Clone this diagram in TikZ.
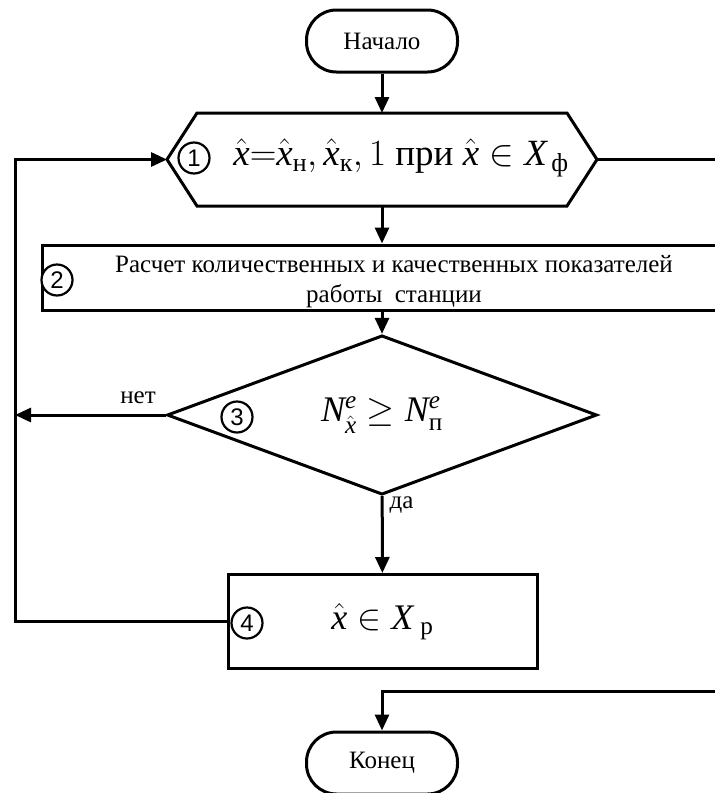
\RequirePackage{fix-cm}
\documentclass[tikz,border=0pt]{standalone}
\usepackage{amsmath}
\usepackage{fontspec}
\setmainfont{Liberation Serif}
\newfontfamily\digitfont{Liberation Sans}
\usetikzlibrary{arrows.meta,shapes.geometric}

\newcommand{\vi}[1]{\text{\itshape #1}}
\newcommand{\xh}{\hat{\vi{x}}}

\begin{document}
\begin{tikzpicture}[x=1pt,y=-1pt,
    every node/.style={font=\rmfamily\fontsize{25}{30}\selectfont},
    line/.style={line width=3pt},
    arrow/.style={line, -{Triangle[length=16pt,width=14pt]}},
    term/.style={draw, line width=3pt, rounded corners=30pt,
                 minimum width=151pt, minimum height=62pt},
    procbox/.style={draw, line width=3pt, inner sep=0pt},
    decision/.style={draw, line width=3pt, diamond, inner sep=0pt,
                     minimum width=430pt, minimum height=148pt},
    num/.style={draw, circle, fill=white, line width=2.2pt, inner sep=0pt,
                minimum size=31pt, font=\digitfont\fontsize{24}{24}\selectfont}]
    \useasboundingbox (0,0) rectangle (715,793);
    \clip (0,0) rectangle (715,793);

    \node[term] (start) at (382,41) {Начало};
    \node[term] (stop) at (382,763) {Конец};

    % cycle over x
    \node[minimum width=370pt, minimum height=93pt, inner sep=0pt, outer sep=0pt] (hex) at (382,159.5) {};
    \draw[line] (hex.north west) -- (hex.north east) -- ++(30,46.5) coordinate (hexR)
      -- (hex.south east) -- (hex.south west) -- ++(-30,-46.5) coordinate (hexL) -- cycle;
    \node[font=\rmfamily\fontsize{37}{40}\selectfont] (hexf) at (401,158)
      {$\xh{=}\xh_{\text{н}},\xh_{\text{к}},1\text{ при }\xh\in\vi{X}_{\,\text{ф}}$};
    \node[num] (n1) at (194,158) {1};

    \node[procbox, minimum width=703pt, minimum height=65pt] (metrics) at (393.5,277.5) {};
    \node[align=center] (metricsText) at (394,282)
      {Расчет количественных и качественных показателей\\работы\ \ станции};
    \node[num] (n2) at (57,280) {2};

    \node[decision, font=\rmfamily\fontsize{36}{40}\selectfont] (check) at (382,415)
      {$\vi{N}^{\vi{e}}_{\lower3pt\hbox{$\scriptstyle\xh$}}\geq\vi{N}^{\vi{e}}_{\text{п}}$};
    \node[num] (n3) at (237,417) {3};
    \node (no) at (138,398) {нет};
    \node[anchor=west] (yes) at (386,505) {да};

    \node[procbox, minimum width=309pt, minimum height=94pt, font=\rmfamily\fontsize{36}{40}\selectfont] (accept) at (382.5,621.5)
      {$\xh\in\vi{X}_{\;\text{р}}$};
    \node[num] (n4) at (247,623) {4};

    \coordinate (ltop) at (15,159.5);
    \coordinate (rtop) at (715,159.5);
    \coordinate (rbot) at (715,691);

    \draw[arrow] (start) -- (hex);
    \draw[arrow] (hex.south) -- (metrics.north -| hex.south);
    \draw[arrow] (metrics.south -| check.north) -- (check.north);
    \draw[arrow] (check) -- (accept);
    \draw[arrow] (check.west) -- (check.west -| ltop);
    \draw[arrow] (accept.west) -| (ltop) -- (hexL);
    \draw[line] (hexR) -- (rtop);
    \draw[arrow] (rbot) -| (stop.north);
\end{tikzpicture}
\end{document}
